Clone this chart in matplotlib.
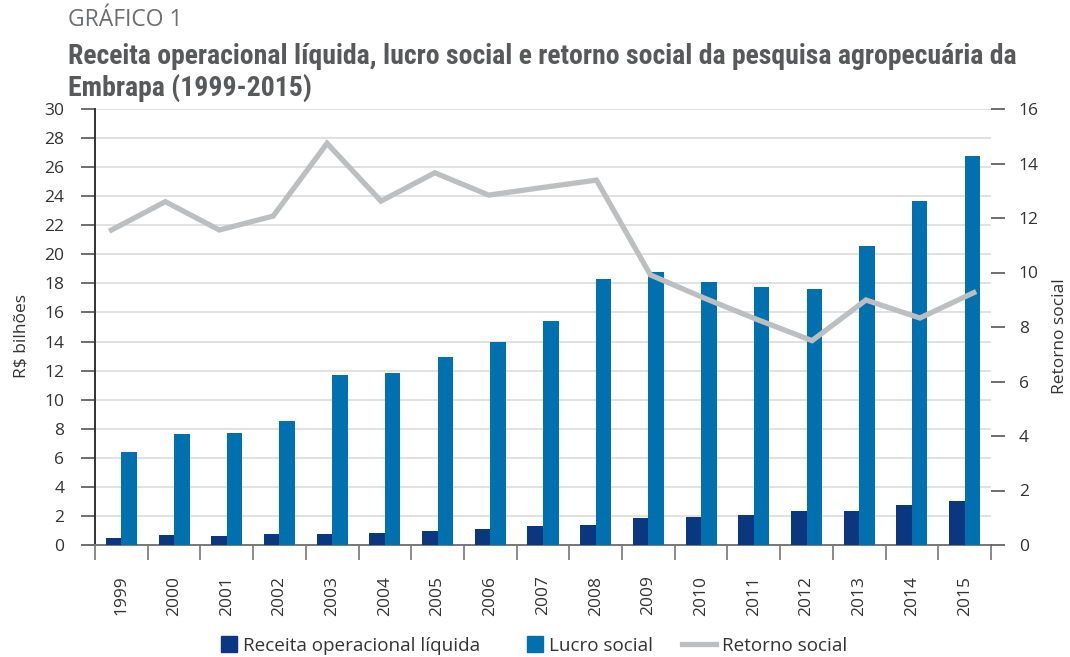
import numpy as np
import matplotlib
matplotlib.use("Agg")
import matplotlib.pyplot as plt
from matplotlib.patches import Rectangle
from matplotlib.legend_handler import HandlerPatch

# Dados
anos = [str(a) for a in range(1999, 2016)]
receita = [0.48, 0.69, 0.62, 0.76, 0.76, 0.83, 0.96, 1.10, 1.31, 1.38,
           1.86, 1.93, 2.07, 2.34, 2.34, 2.75, 3.03]
lucro = [6.4, 7.64, 7.7, 8.53, 11.7, 11.84, 12.94, 13.97, 15.4, 18.3,
         18.8, 18.1, 17.76, 17.6, 20.6, 23.67, 26.8]
retorno = [11.56, 12.6, 11.56, 12.07, 14.74, 12.62, 13.66, 12.84, 13.12, 13.39,
           9.91, 9.06, 8.26, 7.5, 8.99, 8.33, 9.26]

cor_receita = "#0b3680"
cor_lucro = "#0071ae"
cor_retorno = "#bcbec0"
cor_texto = "#333333"

plt.rcParams['font.family'] = ['Open Sans', 'DejaVu Sans']

fig = plt.figure(figsize=(10.7, 6.57), dpi=100)
ax = fig.add_axes([95 / 1070, 1 - 545 / 657, 896 / 1070, 436 / 657])

x = np.arange(len(anos))
w = 0.295
ax.bar(x - w / 2, receita, w, color=cor_receita, zorder=3)
ax.bar(x + w / 2, lucro, w, color=cor_lucro, zorder=3)

ax.set_xlim(-0.5, len(anos) - 0.5)
ax.set_ylim(0, 30)
ax.set_yticks(np.arange(0, 31, 2))
ax.grid(axis="y", color="#dcdcdc", lw=1.2, zorder=0)
ax.set_axisbelow(True)

# eixo x: marcas entre categorias, rótulos no centro
ax.set_xticks(x)
ax.set_xticklabels(anos, rotation=90, fontsize=12.5, color=cor_texto)
ax.set_xticks(np.arange(-0.5, len(anos), 1), minor=True)
ax.tick_params(axis="x", which="major", length=0, pad=22)
ax.tick_params(axis="x", which="minor", length=11, width=1.2, color="#777777", direction="out")
ax.tick_params(axis="y", length=10, width=1.2, color="#555555", pad=12,
               labelsize=12.5, labelcolor=cor_texto)

for s in ["top", "right"]:
    ax.spines[s].set_visible(False)
ax.spines["left"].set_color("#333333")
ax.spines["left"].set_linewidth(1.4)
ax.spines["bottom"].set_color("#777777")
ax.spines["bottom"].set_linewidth(1.4)

ax.set_ylabel("R$ bilhões", fontsize=12.5, color=cor_texto)
ax.yaxis.set_label_coords(-0.073, 0.48)

# eixo secundário para o retorno social
ax2 = fig.add_axes(ax.get_position(), frameon=False)
ax2.set_xlim(-0.306, 16.32)
ax2.set_ylim(0, 16)
ax2.plot(x, retorno, color=cor_retorno, lw=3.8, zorder=4, solid_joinstyle="miter")
ax2.xaxis.set_visible(False)
ax2.yaxis.tick_right()
ax2.yaxis.set_label_position("right")
ax2.set_yticks(np.arange(0, 17, 2))
ax2.tick_params(axis="y", length=10, width=1.2, color="#555555", pad=10,
                labelsize=12.5, labelcolor=cor_texto)
ax2.spines["right"].set_visible(True)
ax2.spines["right"].set_color("#333333")
ax2.spines["right"].set_linewidth(1.4)
for s in ["top", "left", "bottom"]:
    ax2.spines[s].set_visible(False)
ax2.set_ylabel("Retorno social", fontsize=12.5, color=cor_texto)
ax2.yaxis.set_label_coords(1.068, 0.48)


def quadrado(legend, orig_handle, xdescent, ydescent, width, height, fontsize):
    h = height * 1.22
    return Rectangle((xdescent + width - h, ydescent + (height - h) / 2), h, h)


handles = [Rectangle((0, 0), 1, 1, color=cor_receita),
           Rectangle((0, 0), 1, 1, color=cor_lucro),
           plt.Line2D([], [], color=cor_retorno, lw=3.8)]
fig.legend(handles, ["Receita operacional líquida", "Lucro social", "Retorno social"],
           loc="center", bbox_to_anchor=(0.491, 1 - 646 / 657), ncol=3, frameon=False,
           fontsize=13.6, handlelength=1.8, handletextpad=0.3, columnspacing=1.55,
           labelcolor=cor_texto,
           handler_map={Rectangle: HandlerPatch(patch_func=quadrado)})

fig.text(68 / 1070, 1 - 20 / 657, "GRÁFICO 1", fontsize=16.5, color="#6d6e70", va="center")
titulo = ["Receita operacional líquida, lucro social e retorno social da pesquisa agropecuária da",
          "Embrapa (1999-2015)"]
for i, linha in enumerate(titulo):
    fig.text(68 / 1070, 1 - (57 + 31 * i) / 657, linha, fontsize=20, fontweight="bold",
             fontstretch="condensed", color="#58595b", va="center",
             family=['Noto Sans Condensed', 'Roboto Condensed', 'Open Sans Condensed', 'Roboto'])

fig.savefig("out.png", dpi=100)
